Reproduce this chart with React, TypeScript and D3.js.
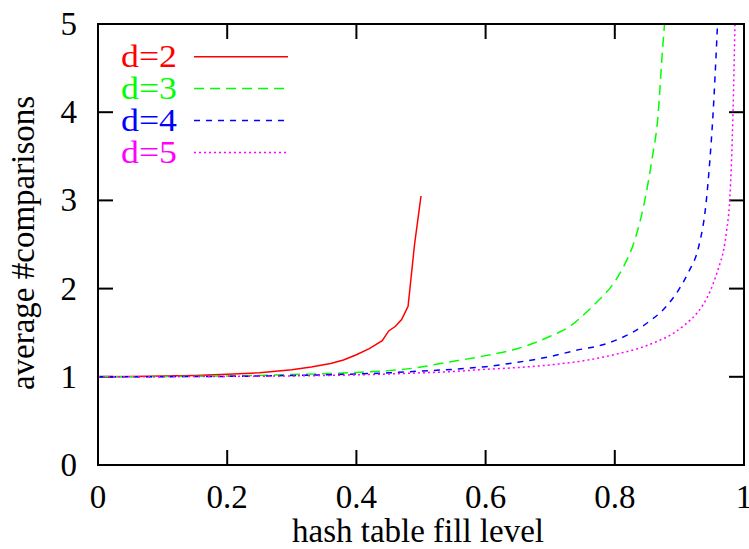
import React from "react";
import * as d3 from "d3";

const xTicks = [0, 0.2, 0.4, 0.6, 0.8, 1];
const xTickLabels = ["0", "0.2", "0.4", "0.6", "0.8", "1"];
const yTicks = [0, 1, 2, 3, 4, 5];
const yTickLabels = ["0", "1", "2", "3", "4", "5"];

const d2x = [0, 0.05, 0.1, 0.15, 0.2, 0.25, 0.3, 0.33, 0.36, 0.38, 0.4, 0.42, 0.44, 0.45, 0.46, 0.47, 0.48, 0.49, 0.5];
const d2y = [1.0, 1.003, 1.008, 1.015, 1.03, 1.045, 1.08, 1.11, 1.15, 1.19, 1.25, 1.32, 1.41, 1.52, 1.57, 1.65, 1.8, 2.5, 3.05];

const d3x = [0, 0.1, 0.2, 0.3, 0.4, 0.45, 0.5, 0.53, 0.6, 0.65, 0.7, 0.73, 0.75, 0.77, 0.8, 0.815, 0.83, 0.845, 0.857, 0.867, 0.874, 0.877];
const d3y = [1.0, 1.003, 1.01, 1.025, 1.05, 1.07, 1.11, 1.15, 1.24, 1.32, 1.46, 1.57, 1.69, 1.83, 2.08, 2.27, 2.53, 2.95, 3.44, 3.97, 4.72, 5.0];

const d4x = [0, 0.2, 0.3, 0.4, 0.45, 0.5, 0.55, 0.6, 0.65, 0.7, 0.74, 0.78, 0.81, 0.85, 0.88, 0.9, 0.915, 0.93, 0.941, 0.947, 0.952, 0.958, 0.959];
const d4y = [1.0, 1.005, 1.015, 1.032, 1.045, 1.065, 1.085, 1.115, 1.165, 1.23, 1.3, 1.36, 1.44, 1.61, 1.8, 2.0, 2.2, 2.48, 2.95, 3.44, 3.97, 4.84, 5.0];

const d5x = [0, 0.3, 0.4, 0.45, 0.5, 0.55, 0.6, 0.65, 0.7, 0.75, 0.78, 0.81, 0.84, 0.865, 0.89, 0.91, 0.927, 0.936, 0.947, 0.955, 0.963, 0.968, 0.973, 0.978, 0.983, 0.986];
const d5y = [1.0, 1.01, 1.022, 1.032, 1.045, 1.06, 1.085, 1.105, 1.135, 1.18, 1.22, 1.27, 1.33, 1.4, 1.49, 1.6, 1.72, 1.81, 1.96, 2.11, 2.29, 2.42, 2.65, 3.02, 4.0, 5.0];

const seriesNames = ["d=2", "d=3", "d=4", "d=5"];
const seriesColors = ["#ff0000", "#00ff00", "#0000ff", "#ff00ff"];
const seriesDash = ["none", "10,6", "6,6", "2,3"];
const seriesX = [d2x, d3x, d4x, d5x];
const seriesY = [d2y, d3y, d4y, d5y];

const xLabel = "hash table fill level";
const yLabel = "average #comparisons";

export default function App() {
  const W = 749, H = 549;
  const left = 98, right = 744, top = 24, bottom = 465;
  const x = d3.scaleLinear().domain([0, 1]).range([left, right]);
  const y = d3.scaleLinear().domain([0, 5]).range([bottom, top]);
  const tick = 15;
  const font = "Liberation Serif, DejaVu Serif, serif";
  const fs = 33;

  const smooth = d3
    .line<[number, number]>()
    .x((d) => x(d[0]))
    .y((d) => y(d[1]))
    .curve(d3.curveMonotoneX);
  const straight = d3
    .line<[number, number]>()
    .x((d) => x(d[0]))
    .y((d) => y(d[1]));

  return (
    <svg
      width={W}
      height={H}
      viewBox={`0 0 ${W} ${H}`}
      style={{ position: "absolute", left: 0, top: 0, background: "#fff" }}
    >
      <defs>
        <clipPath id="plotclip">
          <rect x={left} y={top} width={right - left} height={bottom - top} />
        </clipPath>
      </defs>
      <rect x={0} y={0} width={W} height={H} fill="#fff" />

      {xTicks.map((t, i) => (
        <g key={"xt" + i}>
          <line x1={x(t)} x2={x(t)} y1={bottom} y2={bottom - tick} stroke="#000" strokeWidth={2} />
          <line x1={x(t)} x2={x(t)} y1={top} y2={top + tick} stroke="#000" strokeWidth={2} />
          <text x={x(t)} y={508} textAnchor="middle" style={{ fontFamily: font, fontSize: fs }} fill="#000">
            {xTickLabels[i]}
          </text>
        </g>
      ))}
      {yTicks.map((t, i) => (
        <g key={"yt" + i}>
          <line x1={left} x2={left + tick} y1={y(t)} y2={y(t)} stroke="#000" strokeWidth={2} />
          <line x1={right} x2={right - tick} y1={y(t)} y2={y(t)} stroke="#000" strokeWidth={2} />
          <text x={77} y={y(t) + 11} textAnchor="end" style={{ fontFamily: font, fontSize: fs }} fill="#000">
            {yTickLabels[i]}
          </text>
        </g>
      ))}

      <g clipPath="url(#plotclip)">
        {seriesNames.map((name, i) => {
          const pts: [number, number][] = seriesX[i].map((v, j) => [v, seriesY[i][j]]);
          const gen = i === 0 ? straight : smooth;
          return (
            <path
              key={name}
              d={gen(pts) || ""}
              fill="none"
              stroke={seriesColors[i]}
              strokeWidth={1.5}
              strokeDasharray={seriesDash[i] === "none" ? undefined : seriesDash[i]}
            />
          );
        })}
      </g>

      <rect x={left} y={top} width={right - left} height={bottom - top} fill="none" stroke="#000" strokeWidth={2} />

      {seriesNames.map((name, i) => {
        const ly = 56.7 + i * 31.9;
        return (
          <g key={"lg" + i}>
            <text
              x={121}
              y={ly + 10.5}
              style={{ fontFamily: font, fontSize: 31 }}
              fill={seriesColors[i]}
              textLength={56}
              lengthAdjust="spacingAndGlyphs"
            >
              {name}
            </text>
            <line
              x1={194}
              x2={288}
              y1={ly}
              y2={ly}
              stroke={seriesColors[i]}
              strokeWidth={1.5}
              strokeDasharray={seriesDash[i] === "none" ? undefined : seriesDash[i]}
            />
          </g>
        );
      })}

      <text x={418} y={542} textAnchor="middle" style={{ fontFamily: font, fontSize: fs }} fill="#000">
        {xLabel}
      </text>
      <text
        transform="translate(34,243) rotate(-90)"
        textAnchor="middle"
        style={{ fontFamily: font, fontSize: fs }}
        fill="#000"
      >
        {yLabel}
      </text>
    </svg>
  );
}
